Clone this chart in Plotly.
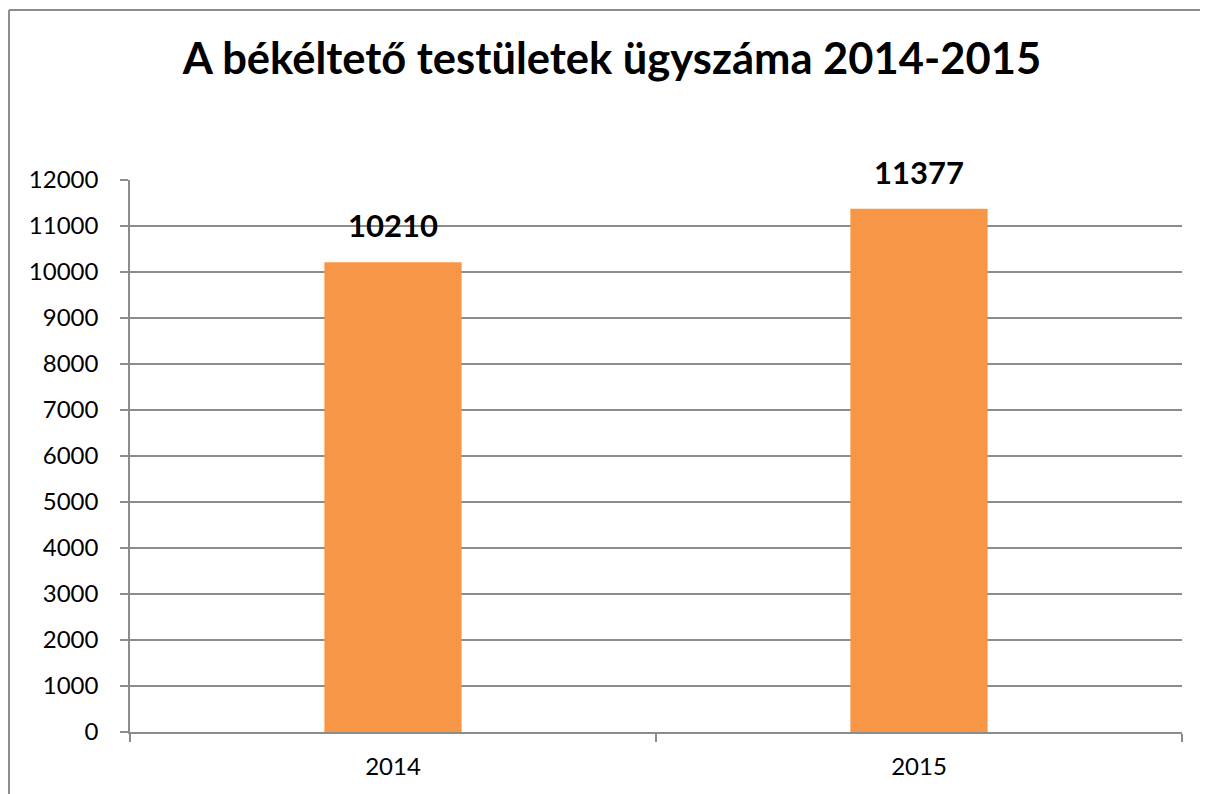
import plotly.graph_objects as go

categories = ["2014", "2015"]
values = [10210, 11377]
y_ticks = list(range(0, 12001, 1000))
title_text = "A békéltető testületek ügyszáma 2014-2015"

BAR_COLOR = "#F79646"
GRID = "#8C8C8C"
FONT = "Lato, Calibri, sans-serif"

fig = go.Figure()
fig.add_trace(go.Bar(x=categories, y=values, marker=dict(color=BAR_COLOR, line=dict(width=0)),
                     hoverinfo="skip"))

for i, v in enumerate(values):
    fig.add_annotation(x=i, y=v, xref="x", yref="y", text=f"<b>{v}</b>", showarrow=False,
                       yanchor="bottom", yshift=16,
                       font=dict(family=FONT, size=31, color="#000000"))

# outer chart border (only the top and left edges fall inside the picture)
fig.add_shape(type="line", xref="paper", yref="paper", x0=-0.115, y0=1.308, x1=1.1, y1=1.308,
              line=dict(color=GRID, width=2), layer="below")
fig.add_shape(type="line", xref="paper", yref="paper", x0=-0.115, y0=-0.2, x1=-0.115, y1=1.308,
              line=dict(color=GRID, width=2), layer="below")

fig.update_layout(
    width=1208, height=794,
    margin=dict(l=122, r=34, t=172, b=70, autoexpand=False),
    paper_bgcolor="white", plot_bgcolor="white",
    bargap=0.739,
    showlegend=False,
    title=dict(text=f"<b>{title_text}</b>", x=0.5, xanchor="center", y=0.936, yanchor="middle",
               font=dict(family=FONT, size=43.5, color="#000000")),
    font=dict(family=FONT, color="#000000"),
)
fig.update_xaxes(type="category", range=[-0.5, 1.5], showline=True, linecolor=GRID, linewidth=1.5,
                 ticks="outside", tickson="boundaries", ticklen=8, tickcolor=GRID, tickwidth=1.5,
                 showgrid=False, tickangle=0, tickfont=dict(family=FONT, size=24, color="#000000"),
                 ticklabelstandoff=12)
fig.update_yaxes(range=[0, 12000], tickvals=y_ticks, ticktext=[str(t) for t in y_ticks],
                 showline=True, linecolor=GRID, linewidth=1.5,
                 ticks="outside", ticklen=8, tickcolor=GRID, tickwidth=1.5,
                 showgrid=True, gridcolor=GRID, gridwidth=1.5, zeroline=False,
                 tickfont=dict(family=FONT, size=24, color="#000000"), ticklabelstandoff=17)

fig.write_html("out.html")
